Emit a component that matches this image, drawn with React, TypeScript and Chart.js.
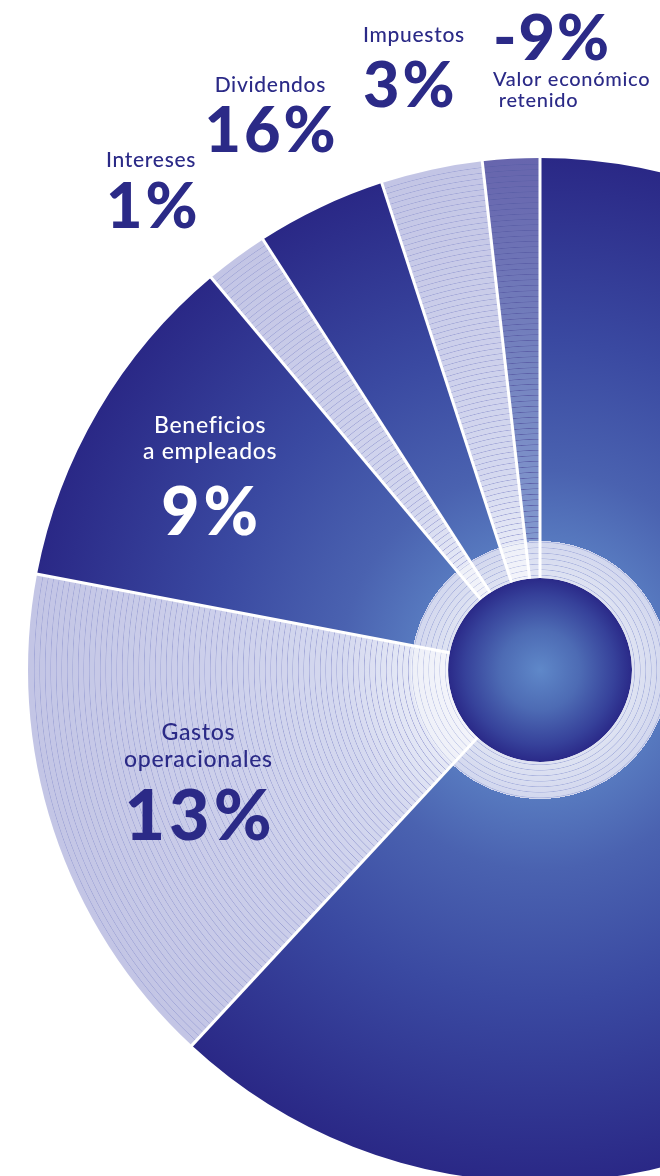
import { useEffect, useRef } from "react";
import { Chart, registerables } from "chart.js";

Chart.register(...registerables);

// ---------------- data ----------------
const categories = [
  "Valor económico distribuido",
  "Gastos operacionales",
  "Beneficios a empleados",
  "Intereses",
  "Dividendos",
  "Impuestos",
  "Valor económico retenido",
];
// share of the circle each slice occupies in the drawing (%)
const sliceShares = [61.9, 16.1, 10.9, 2.0, 4.1, 3.2, 1.8];
// printed percentages
const percentLabels = ["", "13%", "9%", "1%", "16%", "3%", "-9%"];
// caption lines printed with each percentage
const captionLines: string[][] = [
  [],
  ["Gastos", "operacionales"],
  ["Beneficios", "a empleados"],
  ["Intereses"],
  ["Dividendos"],
  ["Impuestos"],
  ["Valor económico", " retenido"],
];
const coreValues = [1];

// ---------------- styles / layout ----------------
const NAVY = "#2b2a87";
const FONT = 'Lato, "Open Sans", sans-serif';
const sliceTone = ["dark", "light", "dark", "light", "dark", "light", "mid"];
const CANVAS_W = 1052;
const CANVAS_H = 1182;
const PADDING = { left: 28, top: 158, right: 0, bottom: 0 };
const REF_R = 512; // design radius used for the colour stops below
const CORE_R = 92;
const RING_R = 129;
const MAIN_WEIGHT = REF_R - CORE_R;
const CORE_WEIGHT = CORE_R;

type Seg = { from: number; to: number; colors: [number, string][]; line?: string; step?: number };

const toneSegments: Record<string, Seg[]> = {
  dark: [
    { from: CORE_R, to: RING_R, colors: [[CORE_R, "#dfe3f2"], [RING_R, "#d2d7ee"]], line: "#aab3de", step: 5.5 },
    { from: RING_R, to: REF_R, colors: [[RING_R, "#5779bf"], [200, "#4a62b0"], [330, "#3a49a1"], [REF_R, "#2a2886"]] },
  ],
  light: [
    { from: CORE_R, to: RING_R, colors: [[CORE_R, "#f3f4fa"], [RING_R, "#eef0f8"]], line: "#c4cae8", step: 5.5 },
    { from: RING_R, to: REF_R, colors: [[RING_R, "#e6e9f6"], [200, "#d4d8ef"], [320, "#cdd0eb"], [REF_R, "#c3c5e5"]], line: "#a3a8d8", step: 5.5 },
  ],
  mid: [
    { from: CORE_R, to: RING_R, colors: [[CORE_R, "#e2e6f4"], [RING_R, "#d6dbf0"]], line: "#aeb6df", step: 5.5 },
    { from: RING_R, to: REF_R, colors: [[RING_R, "#8299cf"], [300, "#7584c0"], [REF_R, "#6765ad"]], line: "#5c60a8", step: 5.5 },
  ],
  core: [
    { from: 0, to: CORE_R, colors: [[0, "#5f88c9"], [40, "#4d6bb4"], [75, "#36419a"], [CORE_R, "#2a2988"]] },
  ],
};

type LabelSpec = {
  index: number;
  color: string;
  align: CanvasTextAlign;
  radial?: number; // inner labels: placed along the slice's mid angle
  x?: number; // outer labels: anchor point
  y?: number;
  captionSize: number;
  numberSize: number;
  numberSpacing: number;
  captionBaselines: number[]; // relative to anchor
  numberBaseline: number; // relative to anchor
};

const labelLayout: LabelSpec[] = [
  { index: 1, color: NAVY, align: "center", radial: 0.703, captionSize: 23, numberSize: 70, numberSpacing: 4, captionBaselines: [-42, -15], numberBaseline: 58 },
  { index: 2, color: "#ffffff", align: "center", radial: 0.748, captionSize: 23, numberSize: 66, numberSpacing: 4, captionBaselines: [-43, -17], numberBaseline: 59 },
  { index: 3, color: NAVY, align: "left", x: 106, y: 0, captionSize: 21, numberSize: 63, numberSpacing: 3, captionBaselines: [167], numberBaseline: 228 },
  { index: 4, color: NAVY, align: "center", x: 270, y: 0, captionSize: 21, numberSize: 63, numberSpacing: 3, captionBaselines: [92], numberBaseline: 152 },
  { index: 5, color: NAVY, align: "left", x: 363, y: 0, captionSize: 21, numberSize: 63, numberSpacing: 3, captionBaselines: [42], numberBaseline: 107 },
  { index: 6, color: NAVY, align: "left", x: 493, y: 0, captionSize: 20, numberSize: 63, numberSpacing: 2, captionBaselines: [86, 107], numberBaseline: 60 },
];

// ---------------- helpers ----------------
function hexToRgb(h: string) {
  const n = parseInt(h.slice(1), 16);
  return [(n >> 16) & 255, (n >> 8) & 255, n & 255];
}
function colorAt(stops: [number, string][], r: number) {
  if (r <= stops[0][0]) return stops[0][1];
  for (let i = 1; i < stops.length; i++) {
    const [r1, c1] = stops[i];
    const [r0, c0] = stops[i - 1];
    if (r <= r1) {
      const t = (r - r0) / (r1 - r0 || 1);
      const a = hexToRgb(c0);
      const b = hexToRgb(c1);
      const m = a.map((v, k) => Math.round(v + (b[k] - v) * t));
      return `rgb(${m[0]},${m[1]},${m[2]})`;
    }
  }
  return stops[stops.length - 1][1];
}

function buildGradient(chart: any, segs: Seg[]) {
  const area = chart.chartArea;
  if (!area) return "#444";
  const cx = (area.left + area.right) / 2;
  const cy = (area.top + area.bottom) / 2;
  const R = Math.min(area.right - area.left, area.bottom - area.top) / 2;
  const k = R / REF_R;
  const g = chart.ctx.createRadialGradient(cx, cy, 0, cx, cy, R);
  const add = (r: number, c: string) => g.addColorStop(Math.max(0, Math.min(1, r / REF_R)), c);
  segs.forEach((s) => {
    add(s.from, colorAt(s.colors, s.from));
    if (s.line && s.step) {
      const hw = 0.65 / k;
      for (let r = s.from + s.step / 2; r < s.to - 1; r += s.step) {
        add(r - hw, colorAt(s.colors, r - hw));
        add(r, s.line);
        add(r + hw, colorAt(s.colors, r + hw));
      }
    } else {
      s.colors.forEach(([r, c]) => {
        if (r > s.from && r < s.to) add(r, c);
      });
    }
    add(s.to, colorAt(s.colors, s.to));
  });
  return g;
}

const separatorPlugin = {
  id: "separators",
  afterDatasetsDraw(chart: any) {
    const meta = chart.getDatasetMeta(0);
    const core = chart.getDatasetMeta(1).data[0];
    const ctx = chart.ctx;
    ctx.save();
    ctx.strokeStyle = "#ffffff";
    ctx.lineWidth = 3;
    meta.data.forEach((arc: any) => {
      const { x, y, startAngle, outerRadius } = arc.getProps(["x", "y", "startAngle", "outerRadius"], true);
      const r0 = core.outerRadius;
      ctx.beginPath();
      ctx.moveTo(x + Math.cos(startAngle) * r0, y + Math.sin(startAngle) * r0);
      ctx.lineTo(x + Math.cos(startAngle) * (outerRadius + 2), y + Math.sin(startAngle) * (outerRadius + 2));
      ctx.stroke();
    });
    ctx.restore();
  },
};

function drawSpaced(ctx: any, text: string, x: number, y: number, spacing: number, align: CanvasTextAlign) {
  ctx.letterSpacing = `${spacing}px`;
  const w = ctx.measureText(text).width - spacing; // ignore trailing gap
  let left = x;
  if (align === "center") left = x - w / 2;
  else if (align === "right") left = x - w;
  ctx.textAlign = "left";
  ctx.fillText(text, left, y);
  ctx.letterSpacing = "0px";
}

const labelPlugin = {
  id: "sliceLabels",
  afterDraw(chart: any) {
    const ctx = chart.ctx;
    const meta = chart.getDatasetMeta(0);
    ctx.save();
    labelLayout.forEach((spec) => {
      let ax = spec.x ?? 0;
      let ay = spec.y ?? 0;
      if (spec.radial !== undefined) {
        const arc = meta.data[spec.index];
        const { x, y, startAngle, endAngle, outerRadius } = arc.getProps(["x", "y", "startAngle", "endAngle", "outerRadius"], true);
        const mid = (startAngle + endAngle) / 2;
        ax = x + Math.cos(mid) * outerRadius * spec.radial;
        ay = y + Math.sin(mid) * outerRadius * spec.radial;
      }
      ctx.fillStyle = spec.color;
      ctx.textBaseline = "alphabetic";
      ctx.font = `500 ${spec.captionSize}px ${FONT}`;
      captionLines[spec.index].forEach((line, i) => {
        drawSpaced(ctx, line, ax, ay + spec.captionBaselines[i], 0.7, spec.align);
      });
      ctx.font = `900 ${spec.numberSize}px ${FONT}`;
      drawSpaced(ctx, percentLabels[spec.index], ax, ay + spec.numberBaseline, spec.numberSpacing, spec.align);
    });
    ctx.restore();
  },
};

export default function App() {
  const ref = useRef<HTMLCanvasElement | null>(null);

  useEffect(() => {
    const prevMargin = document.body.style.margin;
    document.body.style.margin = "0";
    if (!ref.current) return;
    const chart = new Chart(ref.current, {
      type: "pie",
      data: {
        labels: categories,
        datasets: [
          {
            data: sliceShares,
            weight: MAIN_WEIGHT,
            borderWidth: 0,
            backgroundColor: (c: any) => buildGradient(c.chart, toneSegments[sliceTone[c.dataIndex]]),
          },
          {
            data: coreValues,
            weight: CORE_WEIGHT,
            borderWidth: 0,
            backgroundColor: (c: any) => buildGradient(c.chart, toneSegments.core),
          },
        ],
      } as any,
      options: {
        responsive: false,
        animation: false,
        events: [],
        layout: { padding: PADDING },
        plugins: {
          legend: { display: false },
          tooltip: { enabled: false },
        },
      },
      plugins: [separatorPlugin, labelPlugin],
    });
    return () => {
      chart.destroy();
      document.body.style.margin = prevMargin;
    };
  }, []);

  return (
    <div
      style={{
        position: "fixed",
        left: 0,
        top: 0,
        width: 660,
        height: 1176,
        overflow: "hidden",
        background: "#ffffff",
      }}
    >
      <canvas
        ref={ref}
        width={CANVAS_W}
        height={CANVAS_H}
        style={{ position: "absolute", left: 0, top: 0, width: CANVAS_W, height: CANVAS_H }}
      />
    </div>
  );
}
